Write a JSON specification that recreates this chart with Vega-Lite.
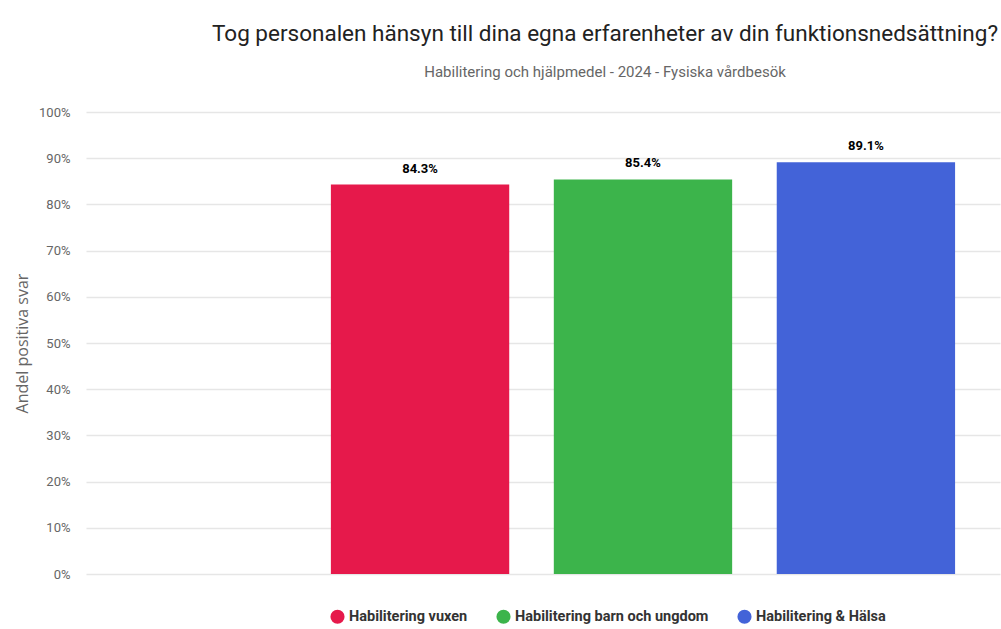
{
  "$schema": "https://vega.github.io/schema/vega-lite/v6.json",
  "autosize": "none",
  "width": 914,
  "height": 462,
  "padding": {"left": 86, "top": 112, "right": 1, "bottom": 55},
  "background": "white",
  "view": {"stroke": null},
  "title": {
    "text": "Tog personalen hänsyn till dina egna erfarenheter av din funktionsnedsättning?",
    "subtitle": "Habilitering och hjälpmedel - 2024 - Fysiska vårdbesök",
    "anchor": "middle",
    "dx": 62,
    "offset": 26,
    "font": "Roboto, sans-serif",
    "fontSize": 22.5,
    "fontWeight": "normal",
    "color": "#222222",
    "subtitleFont": "Roboto, sans-serif",
    "subtitleFontSize": 15,
    "subtitleColor": "#666666",
    "subtitlePadding": 20
  },
  "data": {
    "values": [
      {"enhet": "Habilitering vuxen", "andel": 0.843},
      {"enhet": "Habilitering barn och ungdom", "andel": 0.854},
      {"enhet": "Habilitering & Hälsa", "andel": 0.891}
    ]
  },
  "encoding": {
    "x": {
      "field": "enhet",
      "type": "nominal",
      "sort": null,
      "scale": {"paddingInner": 0.2, "paddingOuter": 0.65, "align": 0.845},
      "axis": null
    },
    "y": {
      "field": "andel",
      "type": "quantitative",
      "scale": {"domain": [0, 1], "nice": false},
      "axis": {
        "title": "Andel positiva svar",
        "format": ".0%",
        "values": [0, 0.1, 0.2, 0.3, 0.4, 0.5, 0.6, 0.7, 0.8, 0.9, 1],
        "labelOverlap": false,
        "domain": false,
        "ticks": false,
        "grid": true,
        "gridColor": "#e6e6e6",
        "gridWidth": 1.5,
        "labelPadding": 16,
        "labelFont": "Roboto, sans-serif",
        "labelFontSize": 13,
        "labelColor": "#666666",
        "titleFont": "Open Sans, sans-serif",
        "titleFontSize": 16,
        "titleFontWeight": "normal",
        "titleColor": "#666666",
        "titleX": -64,
        "titleY": 231,
        "titleAngle": -90,
        "titleAlign": "center",
        "titleBaseline": "middle"
      }
    }
  },
  "layer": [
    {
      "mark": {"type": "bar"},
      "encoding": {
        "color": {
          "field": "enhet",
          "type": "nominal",
          "sort": null,
          "scale": {
            "domain": ["Habilitering vuxen", "Habilitering barn och ungdom", "Habilitering & Hälsa"],
            "range": ["#e6194b", "#3cb44b", "#4363d8"]
          },
          "legend": {
            "title": null,
            "orient": "none",
            "direction": "horizontal",
            "legendX": 244,
            "legendY": 497,
            "symbolType": "circle",
            "symbolSize": 200,
            "symbolStrokeWidth": 0,
            "symbolOpacity": 1,
            "columnPadding": 28,
            "labelFont": "Roboto, sans-serif",
            "labelFontSize": 14.5,
            "labelFontWeight": "bold",
            "labelColor": "#333333",
            "labelLimit": 400
          }
        }
      }
    },
    {
      "mark": {
        "type": "text",
        "dy": -16,
        "font": "Roboto, sans-serif",
        "fontSize": 13,
        "fontWeight": "bold",
        "color": "#000000"
      },
      "encoding": {
        "text": {"field": "andel", "type": "quantitative", "format": ".1%"}
      }
    }
  ]
}
